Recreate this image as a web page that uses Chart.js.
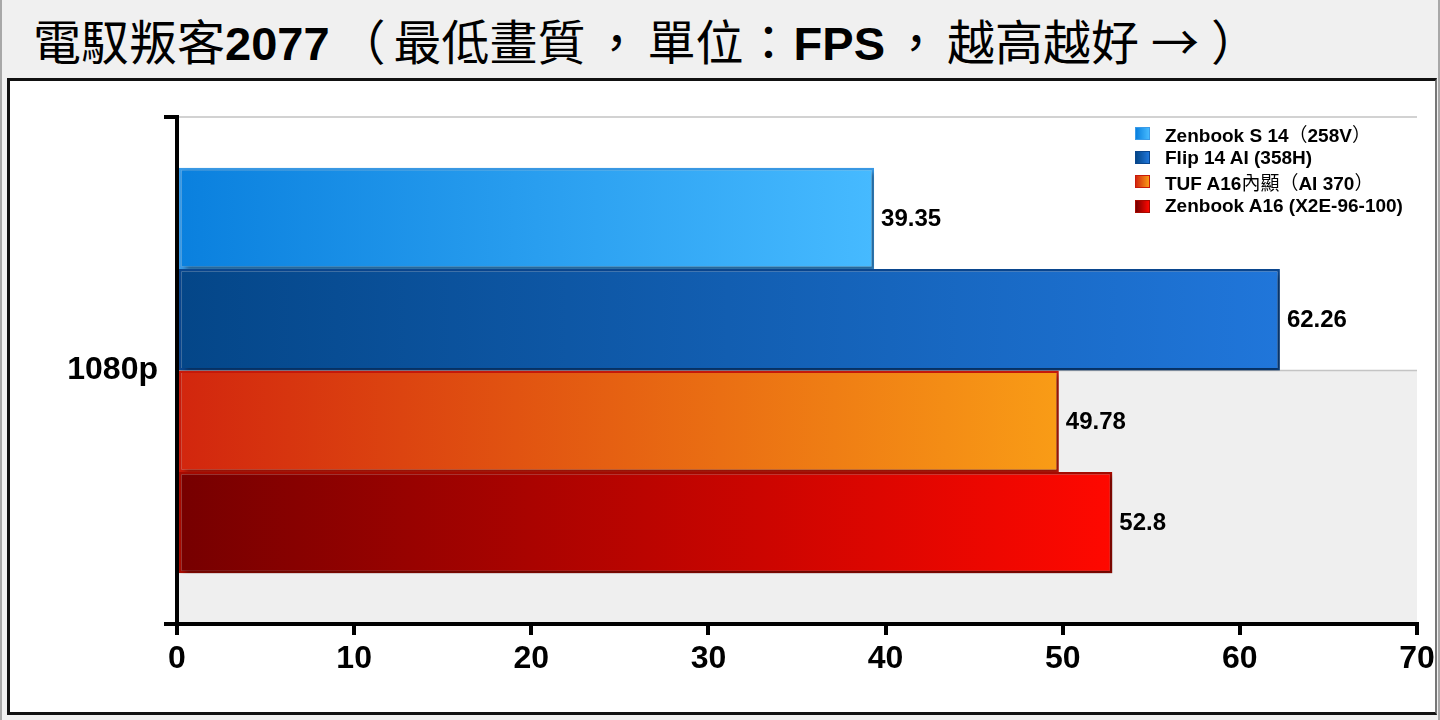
<!DOCTYPE html>
<html><head><meta charset="utf-8">
<script src="https://cdn.jsdelivr.net/npm/chart.js@4.4.1/dist/chart.umd.min.js"></script>
<style>
html,body{margin:0;padding:0;}
body{width:1440px;height:720px;background:#f0f0f0;position:relative;overflow:hidden;font-family:"Liberation Sans",Arial,"Noto Sans CJK TC",sans-serif;}
#frame{position:absolute;left:0;top:0;width:1440px;height:720px;box-sizing:border-box;border-left:2px solid #a8a8a8;border-right:2px solid #a8a8a8;}
#title{position:absolute;left:33px;top:0;height:78px;line-height:78px;font-size:47px;font-weight:700;white-space:nowrap;color:#000;text-spacing-trim:space-all;}
.cjk{font-family:"Noto Sans CJK TC";font-weight:400;}
#title .cjk{font-size:48px;}
#title .p{display:inline-block;text-align:center;}
#box{position:absolute;left:7px;top:78px;width:1430px;height:637px;box-sizing:border-box;background:#fff;border:3px solid #111;border-right:2px solid #777;}
#c{position:absolute;left:0;top:0;width:1440px;height:720px;}
#legend{position:absolute;left:1135px;top:121px;font-size:19px;font-weight:700;color:#000;}
.item{height:24.4px;display:flex;align-items:center;white-space:nowrap;}
.sw{width:15px;height:13px;margin-right:15px;box-sizing:border-box;border:1px solid;}
</style></head>
<body>
<div id="frame"></div>
<div id="title"></div>
<div id="box"></div>
<canvas id="c" width="1440" height="720"></canvas>
<div id="legend"></div>
<script>
const titleText = "電馭叛客2077（最低畫質，單位：FPS，越高越好→）";
const categories = ["1080p"];
const seriesNames = ["Zenbook S 14（258V）", "Flip 14 AI (358H)", "TUF A16內顯（AI 370）", "Zenbook A16 (X2E-96-100)"];
const zenbookS14 = [39.35];
const flip14AI = [62.26];
const tufA16 = [49.78];
const zenbookA16 = [52.8];
const xMin = 0, xMax = 70, xStep = 10;

const seriesValues = [zenbookS14, flip14AI, tufA16, zenbookA16];
const seriesStyles = [
  {from:'#0a80de', to:'#46baff', border:'#3a9be8'},
  {from:'#044688', to:'#2076da', border:'#0a468e'},
  {from:'#d2260e', to:'#f99c16', border:'#c81a0a'},
  {from:'#760000', to:'#ff0800', border:'#a80a00'}
];
const punctWidths = {'（':64, '，':62, '：':50, '→':72, '）':48};

function markup(s){
  return s.replace(/[\u2190-\u21ff\u3000-\u9fff\uff00-\uffef]+/g, m => '<span class="cjk">' + m + '</span>');
}
function titleMarkup(s){
  return s.replace(/[\u2190-\u21ff\u3000-\u9fff\uff00-\uffef]+/g, m =>
    '<span class="cjk">' + m.replace(/[（），：→]/g, c => '<span class="p" style="width:' + punctWidths[c] + 'px">' + c + '</span>') + '</span>');
}
document.getElementById('title').innerHTML = titleMarkup(titleText);
document.getElementById('legend').innerHTML = seriesNames.map((n,i) =>
  '<div class="item"><span class="sw" style="background:linear-gradient(90deg,' + seriesStyles[i].from + ',' + seriesStyles[i].to + ');border-color:' + seriesStyles[i].border + '"></span><span>' + markup(n) + '</span></div>'
).join('');

function gradFor(i){
  return function(ctx){
    const chart = ctx.chart;
    const st = seriesStyles[i];
    if (!chart.chartArea || !chart.scales.x) return st.from;
    const xs = chart.scales.x;
    const x0 = xs.getPixelForValue(0);
    const v = ctx.parsed ? ctx.parsed.x : seriesValues[i][ctx.dataIndex];
    const x1 = xs.getPixelForValue(v);
    const g = chart.ctx.createLinearGradient(x0, 0, Math.max(x1, x0 + 1), 0);
    g.addColorStop(0, st.from);
    g.addColorStop(1, st.to);
    return g;
  };
}

const datasets = seriesValues.map((vals, i) => ({
  label: seriesNames[i],
  data: vals,
  backgroundColor: gradFor(i),
  borderColor: seriesStyles[i].border,
  borderWidth: 2.5,
  borderSkipped: false,
  categoryPercentage: 0.8,
  barPercentage: 1.0
}));

const bandPlugin = {
  id: 'bands',
  beforeDraw(chart){
    const {ctx, chartArea: a, scales: {y}} = chart;
    const mid = y.getPixelForValue(0);
    ctx.save();
    ctx.fillStyle = '#efefef';
    ctx.fillRect(a.left, mid, a.right - a.left, a.bottom - mid);
    ctx.strokeStyle = '#c4c4c4';
    ctx.lineWidth = 1.5;
    ctx.beginPath();
    ctx.moveTo(a.left, a.top); ctx.lineTo(a.right, a.top);
    ctx.moveTo(a.left, mid); ctx.lineTo(a.right, mid);
    ctx.stroke();
    ctx.restore();
  },
  beforeDatasetDraw(chart){
    const ctx = chart.ctx;
    ctx.save();
    ctx.shadowColor = 'rgba(0,0,0,0.4)';
    ctx.shadowBlur = 5;
    ctx.shadowOffsetX = 3;
    ctx.shadowOffsetY = 3;
  },
  afterDatasetDraw(chart){
    chart.ctx.restore();
  },
  afterDatasetsDraw(chart){
    const ctx = chart.ctx;
    ctx.save();
    ctx.font = 'bold 24px "Liberation Sans", Arial, sans-serif';
    ctx.fillStyle = '#000';
    ctx.textAlign = 'left';
    ctx.textBaseline = 'middle';
    chart.data.datasets.forEach((ds, i) => {
      const meta = chart.getDatasetMeta(i);
      meta.data.forEach((el, j) => {
        ctx.fillText(String(ds.data[j]), el.x + 7, el.y + 1);
      });
    });
    ctx.restore();
  }
};

new Chart(document.getElementById('c'), {
  type: 'bar',
  data: { labels: categories, datasets },
  options: {
    indexAxis: 'y',
    responsive: false,
    animation: false,
    layout: { padding: { left: 0, top: 117, right: 23, bottom: 46 } },
    plugins: { legend: { display: false }, tooltip: { enabled: false }, title: { display: false } },
    scales: {
      x: {
        type: 'linear', min: xMin, max: xMax,
        ticks: { stepSize: xStep, color: '#000', padding: 5, font: { family: '"Liberation Sans", Arial, sans-serif', size: 32, weight: 'bold' } },
        grid: { drawOnChartArea: false, drawTicks: true, tickLength: 11, color: '#000', lineWidth: 4 },
        border: { display: true, color: '#000', width: 4 },
        afterFit(s){ s.height = 50; }
      },
      y: {
        type: 'category',
        ticks: { color: '#000', padding: 6, font: { family: '"Liberation Sans", Arial, sans-serif', size: 32, weight: 'bold' } },
        grid: { offset: true, drawOnChartArea: false, drawTicks: true, tickLength: 13, color: '#000', lineWidth: 4 },
        border: { display: true, color: '#000', width: 4 },
        afterFit(s){ s.width = 177; }
      }
    }
  },
  plugins: [bandPlugin]
});
</script>
</body></html>
